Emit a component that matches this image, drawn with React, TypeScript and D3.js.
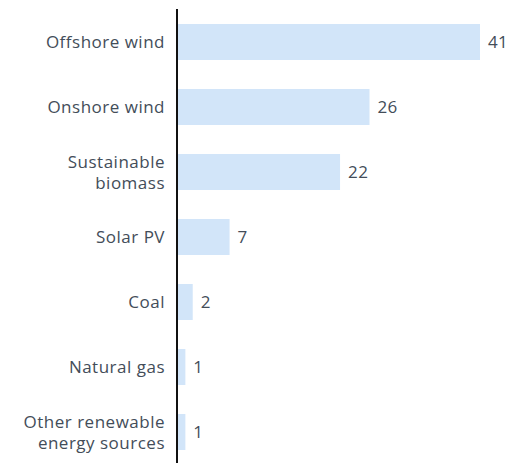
import React, { useRef, useEffect } from 'react'
import * as d3 from 'd3'

const categories = [
  ['Offshore wind'],
  ['Onshore wind'],
  ['Sustainable', 'biomass'],
  ['Solar PV'],
  ['Coal'],
  ['Natural gas'],
  ['Other renewable', 'energy sources'],
]
const values = [41, 26, 22, 7, 2, 1, 1]

const App = () => {
  const svgRef = useRef<SVGSVGElement>(null)

  useEffect(() => {
    const svg = d3.select(svgRef.current)
    svg.selectAll('*').remove()
    const height = 463
    const axisX = 177
    const font = '"Open Sans", sans-serif'
    const textColor = '#434d59'

    const keys = categories.map((c) => c.join(' '))
    const step = 65
    const pIn = 29 / 65
    const pOut = 0.3
    const y0 = 24 - pOut * step
    const y = d3.scaleBand()
      .domain(keys)
      .range([y0, y0 + step * (keys.length - pIn + 2 * pOut)])
      .paddingInner(pIn)
      .paddingOuter(pOut)
    const x = d3.scaleLinear().domain([0, 41]).range([axisX + 1, 480])

    const data = keys.map((k, i) => ({ key: k, lines: categories[i], value: values[i] }))

    // bars
    svg.selectAll('.bar')
      .data(data)
      .enter().append('rect')
      .attr('class', 'bar')
      .attr('x', x(0))
      .attr('y', (d) => y(d.key)!)
      .attr('width', (d) => x(d.value) - x(0))
      .attr('height', y.bandwidth())
      .attr('fill', '#d2e5f9')

    // value labels
    svg.selectAll('.val')
      .data(data)
      .enter().append('text')
      .attr('class', 'val')
      .attr('x', (d) => x(d.value) + 8)
      .attr('y', (d) => y(d.key)! + y.bandwidth() / 2)
      .attr('dy', '0.36em')
      .attr('font-family', font)
      .attr('font-size', 17)
      .attr('letter-spacing', 0.4)
      .attr('fill', textColor)
      .text((d) => d.value)

    // category labels, one text per line
    data.forEach((d) => {
      const cy = y(d.key)! + y.bandwidth() / 2
      const n = d.lines.length
      d.lines.forEach((line, j) => {
        svg.append('text')
          .attr('class', 'cat')
          .attr('text-anchor', 'end')
          .attr('font-family', font)
          .attr('font-size', 17)
          .attr('letter-spacing', 0.5)
          .attr('fill', textColor)
          .attr('x', 165)
          .attr('y', cy + (j - (n - 1) / 2) * 21)
          .attr('dy', '0.36em')
          .text(line)
      })
    })

    // axis line
    svg.append('line')
      .attr('x1', axisX).attr('x2', axisX)
      .attr('y1', 9).attr('y2', height)
      .attr('stroke', '#111')
      .attr('stroke-width', 2)
  }, [])

  return (
    <svg ref={svgRef} width={514} height={463} style={{ position: 'absolute', left: 0, top: 0 }}></svg>
  )
}

export default App
